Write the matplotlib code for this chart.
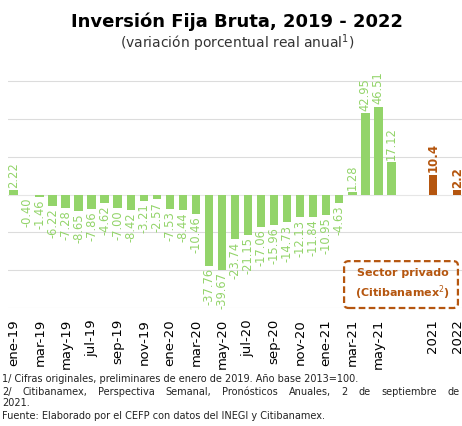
import matplotlib.pyplot as plt
import numpy as np
from matplotlib.patches import FancyBboxPatch

# monthly annual real change, ene-19 .. jun-21
months = ['ene-19', 'feb-19', 'mar-19', 'abr-19', 'may-19', 'jun-19',
          'jul-19', 'ago-19', 'sep-19', 'oct-19', 'nov-19', 'dic-19',
          'ene-20', 'feb-20', 'mar-20', 'abr-20', 'may-20', 'jun-20',
          'jul-20', 'ago-20', 'sep-20', 'oct-20', 'nov-20', 'dic-20',
          'ene-21', 'feb-21', 'mar-21', 'abr-21', 'may-21', 'jun-21']
monthly = [2.22, -0.40, -1.46, -6.22, -7.28, -8.65, -7.86, -4.62, -7.00,
           -8.42, -3.21, -2.57, -7.53, -8.44, -10.46, -37.76, -39.67,
           -23.74, -21.15, -17.06, -15.96, -14.73, -12.13, -11.84, -10.95,
           -4.63, 1.28, 42.95, 46.51, 17.12]
years = ['2021', '2022']
forecast = [10.4, 2.2]

green = '#93d46a'
brown = '#b5560f'

fig = plt.figure(figsize=(4.62, 4.26), dpi=100)
ax = fig.add_axes([8 / 462, 0.277, 1 - 8 / 462, 0.555])

x_m = np.arange(len(monthly))
x_y = len(monthly) + 2.2 + 1.9 * np.arange(len(forecast))

ax.bar(x_m, monthly, width=0.68, color=green, zorder=2)
ax.bar(x_y, forecast, width=0.62, color=brown, zorder=2)

# value labels
for x, v in zip(x_m, monthly):
    off = 1.2 if v >= 0 else -1.2
    ax.text(x, v + off, '{:.2f}'.format(v), rotation=90, ha='center',
            va='bottom' if v >= 0 else 'top', color=green, fontsize=8.3)
for x, v in zip(x_y, forecast):
    ax.text(x, v + 1.5, '{}'.format(v), rotation=90, ha='center',
            va='bottom', color=brown, fontsize=8.5, fontweight='bold')

ax.set_ylim(-60, 65)
ax.set_xlim(-0.45, 34.45)
ax.set_yticks([-60, -40, -20, 20, 40, 60])
ax.yaxis.grid(True, color='#dcdcdc', linewidth=0.8, zorder=0)
ax.tick_params(axis='y', left=False, labelleft=False)
ax.axhline(0, color='#e6e6e6', linewidth=0.8, zorder=1)
for s in ax.spines.values():
    s.set_visible(False)

ticks = list(x_m[::2]) + list(x_y)
labels = months[::2] + years
ax.set_xticks(ticks)
ax.set_xticklabels(labels, rotation=90, fontsize=9.5)
ax.tick_params(axis='x', length=0, pad=8)

# titles
fig.text(0.513, 0.948, 'Inversión Fija Bruta, 2019 - 2022', ha='center',
         va='center', fontsize=13, fontweight='bold')
fig.text(0.513, 0.898, '(variación porcentual real anual$^{1}$)',
         ha='center', va='center', fontsize=10, color='#333333')

# forecast box
box = FancyBboxPatch((345 / 462, 0.279), 112 / 462, 0.106,
                     boxstyle='round,pad=0.002,rounding_size=0.01',
                     transform=fig.transFigure, fill=False, edgecolor=brown,
                     linestyle=(0, (3, 1.5)), linewidth=1.6)
fig.add_artist(box)
fig.text(0.872, 0.358, 'Sector privado', ha='center', va='center',
         color=brown, fontsize=8, fontweight='bold')
fig.text(0.872, 0.312, '(Citibanamex$^{2}$)', ha='center', va='center',
         color=brown, fontsize=8, fontweight='bold')

# footnotes
notes = ['1/ Cifras originales, preliminares de enero de 2019. Año base 2013=100.',
         '2/ Citibanamex, Perspectiva Semanal, Pronósticos Anuales, 2 de septiembre de',
         '2021.',
         'Fuente: Elaborado por el CEFP con datos del INEGI y Citibanamex.']
ys = [379, 392, 403, 416]
renderer = fig.canvas.get_renderer()
for i, (t, y) in enumerate(zip(notes, ys)):
    yf = 1 - y / 426
    if i != 1:
        fig.text(2 / 462, yf, t, ha='left', va='center', fontsize=7,
                 color='#222222')
        continue
    # justified line: spread words across the full width
    words = t.split()
    arts = [fig.text(0, yf, w, ha='left', va='center', fontsize=7,
                     color='#222222') for w in words]
    widths = [a.get_window_extent(renderer).width / fig.bbox.width
              for a in arts]
    x0, x1 = 2 / 462, 460 / 462
    gap = (x1 - x0 - sum(widths)) / (len(words) - 1)
    xpos = x0
    for a, w in zip(arts, widths):
        a.set_x(xpos)
        xpos += w + gap

fig.savefig('out.png', dpi=100)
